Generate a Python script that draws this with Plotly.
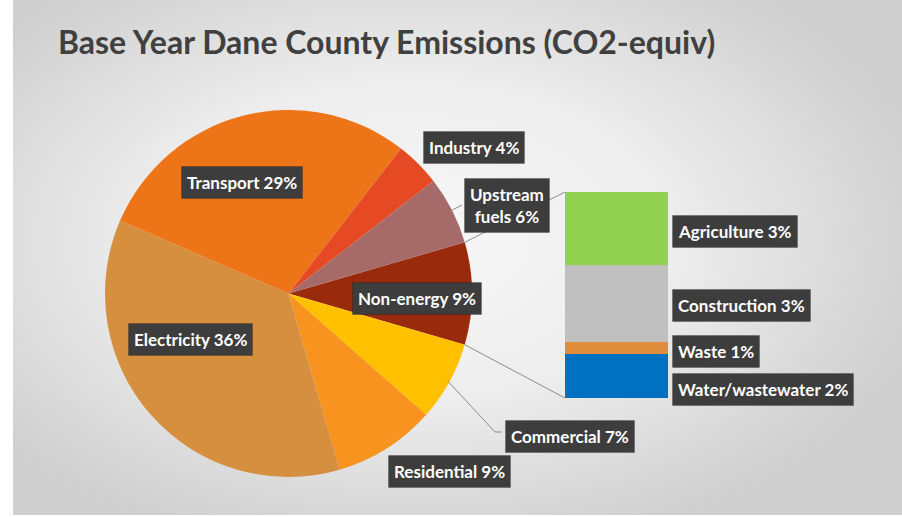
import math
import plotly.graph_objects as go

W, H = 902, 517

title_text = "Base Year Dane County Emissions (CO2-equiv)"

# Pie (clockwise, starting with the broken-out slice)
pie_labels = ["Non-energy", "Commercial", "Residential", "Electricity",
              "Transport", "Industry", "Upstream fuels"]
pie_values = [9, 7, 9, 36, 29, 4, 6]
pie_colors = ["#9A2A0C", "#FFC000", "#F7931E", "#D68F3E",
              "#EE7418", "#E64A25", "#A66B69"]

# Bar of the "Non-energy" slice (bottom to top)
bar_labels = ["Water/wastewater", "Waste", "Construction", "Agriculture"]
bar_values = [1.92, 0.53, 3.35, 3.2]
bar_colors = ["#0070C0", "#DF8D3A", "#C0C0C0", "#92D050"]

FONT = "Lato, Open Sans, sans-serif"
EDGE_GRAY = "#CFCFCF"

# ---- geometry (pixels) ----
cx, cy, r = 288.5, 293.5, 183.5
pie_dom_x = [(cx - r) / W, (cx + r) / W]
pie_dom_y = [1 - (cy + r) / H, 1 - (cy - r) / H]

bar_px_x = [565, 668]
bar_px_y = [192, 398]
bar_dom_x = [bar_px_x[0] / W, bar_px_x[1] / W]
bar_dom_y = [1 - bar_px_y[1] / H, 1 - bar_px_y[0] / H]

panel_left, panel_bottom = 13, 515

total = sum(pie_values)
other_span = 360 * pie_values[0] / total
rotation = 90 - other_span / 2


def edge_pt(angle_deg, rr=r):
    a = math.radians(angle_deg)
    return cx + rr * math.sin(a), cy - rr * math.cos(a)


fig = go.Figure()

# background gradient panel (pixel axes)
fig.add_trace(go.Scatter(
    x=[-120, W + 40, W + 40, -120, -120], y=[-80, -80, 560, 560, -80],
    mode="lines", fill="toself", line=dict(width=0),
    fillgradient=dict(type="radial",
                      colorscale=[[0, "#F8F8F8"], [0.5, "#EDEDED"], [1, EDGE_GRAY]]),
    hoverinfo="skip", showlegend=False, xaxis="x", yaxis="y"))

fig.add_trace(go.Pie(
    labels=pie_labels, values=pie_values, sort=False, direction="clockwise",
    rotation=rotation, marker=dict(colors=pie_colors, line=dict(width=0)),
    textinfo="none", domain=dict(x=pie_dom_x, y=pie_dom_y), showlegend=False))

for lab, val, col in zip(bar_labels, bar_values, bar_colors):
    fig.add_trace(go.Bar(x=[0], y=[val], name=lab, marker=dict(color=col, line=dict(width=0)),
                         width=1, xaxis="x2", yaxis="y2", showlegend=False))

shapes = []
# white margins of the picture (left and bottom)
shapes.append(dict(type="rect", xref="paper", yref="paper", x0=0, x1=panel_left / W,
                   y0=0, y1=1, fillcolor="#FFFFFF", line=dict(width=0), layer="above"))
shapes.append(dict(type="rect", xref="paper", yref="paper", x0=0, x1=1,
                   y0=0, y1=1 - panel_bottom / H, fillcolor="#FFFFFF", line=dict(width=0), layer="above"))

line_style = dict(color="#8C8C8C", width=1)
# connectors from the broken-out slice to the bar
p1 = edge_pt(rotation)
p2 = edge_pt(rotation + other_span)
shapes.append(dict(type="line", xref="x", yref="y", x0=p1[0], y0=p1[1],
                   x1=bar_px_x[0], y1=bar_px_y[0], line=line_style))
shapes.append(dict(type="line", xref="x", yref="y", x0=p2[0], y0=p2[1],
                   x1=bar_px_x[0], y1=bar_px_y[1], line=line_style))

# slice mid angles
mids = []
acc = rotation
for v in pie_values:
    span = 360 * v / total
    mids.append(acc + span / 2)
    acc += span

# leader for Commercial
cm = edge_pt(mids[1], r * 0.99)
shapes.append(dict(type="path", xref="x", yref="y",
                   path=f"M{cm[0]},{cm[1]} L495,432 L502,432", line=line_style))
# leader for Upstream fuels
up = edge_pt(mids[6], r * 0.99)
shapes.append(dict(type="line", xref="x", yref="y", x0=up[0], y0=up[1],
                   x1=462, y1=205, line=line_style))

annotations = []
annotations.append(dict(text=title_text, xref="x", yref="y", x=56, y=41,
                        xanchor="left", yanchor="middle", showarrow=False,
                        font=dict(family=FONT, size=32, color="#404040", weight="bold")))

pie_label_pos = {
    "Non-energy": (417, 298), "Commercial": (570, 436), "Residential": (449, 471),
    "Electricity": (190, 339), "Transport": (242, 182), "Industry": (474, 147),
    "Upstream fuels": (507, 205),
}
bar_label_y = {"Agriculture": 231, "Construction": 305, "Waste": 351, "Water/wastewater": 389}


def box(text, x, y, xanchor="center"):
    annotations.append(dict(text=text, xref="x", yref="y", x=x, y=y, xanchor=xanchor,
                            yanchor="middle", showarrow=False, borderpad=5, align="center",
                            bgcolor="#3D3D3D", bordercolor="rgba(0,0,0,0.18)", borderwidth=1,
                            font=dict(family=FONT, size=17, color="#FFFFFF", weight="bold")))


for lab, val in zip(pie_labels, pie_values):
    name = lab.replace(" ", "<br>") if lab == "Upstream fuels" else lab
    x, y = pie_label_pos[lab]
    box(f"{name} {val}%", x, y)

for lab, val in zip(bar_labels, bar_values):
    box(f"{lab} {round(val)}%", 672, bar_label_y[lab], xanchor="left")

fig.update_layout(
    width=W, height=H, margin=dict(l=0, r=0, t=0, b=0),
    paper_bgcolor=EDGE_GRAY, plot_bgcolor="rgba(0,0,0,0)",
    barmode="stack", bargap=0, showlegend=False,
    xaxis=dict(range=[panel_left, W], domain=[panel_left / W, 1], visible=False, fixedrange=True),
    yaxis=dict(range=[panel_bottom, 0], domain=[1 - panel_bottom / H, 1], visible=False, fixedrange=True),
    xaxis2=dict(range=[-0.5, 0.5], domain=bar_dom_x, anchor="y2", visible=False, fixedrange=True),
    yaxis2=dict(range=[0, sum(bar_values)], domain=bar_dom_y, anchor="x2", visible=False, fixedrange=True),
    shapes=shapes, annotations=annotations,
)

fig.write_html(
    "out.html",
    config={"displayModeBar": False},
    post_script=("document.body.style.margin='0';"
                 "document.body.style.overflow='hidden';"
                 "document.body.style.background='" + EDGE_GRAY + "';"
                 "document.documentElement.style.overflow='hidden';"),
)
